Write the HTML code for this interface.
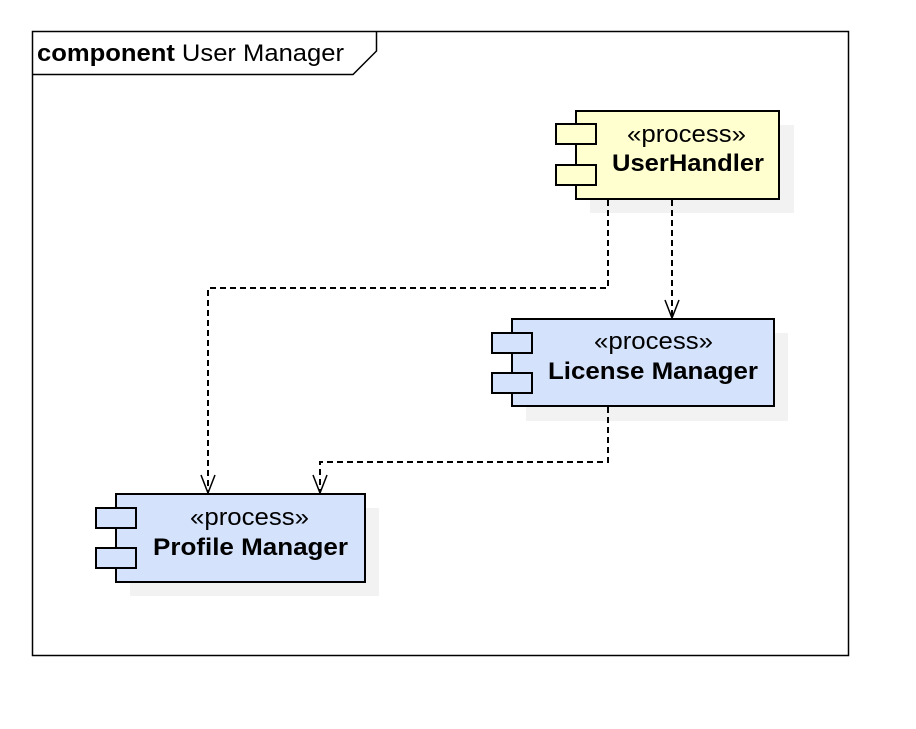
<!DOCTYPE html>
<html><head><style>body{margin:0;background:#fff}</style></head><body>
<svg width="916" height="724" xmlns="http://www.w3.org/2000/svg" font-family="Liberation Sans, sans-serif">
<rect x="0" y="0" width="916" height="724" fill="#fff"/>
<rect x="32.5" y="31.5" width="816" height="624" fill="none" stroke="#000" stroke-width="1.5"/>
<polyline points="32.5,74.5 353,74.5 376.5,51 376.5,31.5" fill="none" stroke="#000" stroke-width="1.5"/>
<text x="37" y="61" font-size="24" textLength="307" lengthAdjust="spacingAndGlyphs"><tspan font-weight="bold">component</tspan> User Manager</text>
<g fill="#f2f2f2">
<rect x="590" y="125" width="204" height="88"/>
<rect x="526" y="333" width="262" height="88"/>
<rect x="130" y="508" width="249" height="88"/>
</g>
<g stroke="#000" stroke-width="2">
<rect x="576" y="111" width="203" height="88" fill="#ffffd0"/>
<rect x="556" y="124" width="40" height="20" fill="#ffffd0"/>
<rect x="556" y="165" width="40" height="20" fill="#ffffd0"/>
<rect x="512" y="319" width="262" height="87" fill="#d4e2fc"/>
<rect x="492" y="333" width="40" height="20" fill="#d4e2fc"/>
<rect x="492" y="373" width="40" height="20" fill="#d4e2fc"/>
<rect x="116" y="494" width="249" height="88" fill="#d4e2fc"/>
<rect x="96" y="508" width="40" height="20" fill="#d4e2fc"/>
<rect x="96" y="548" width="40" height="20" fill="#d4e2fc"/>
</g>
<g font-size="24" lengthAdjust="spacingAndGlyphs">
<text x="627" y="142" textLength="119" lengthAdjust="spacingAndGlyphs">«process»</text>
<text x="612" y="171" font-weight="bold" textLength="152" lengthAdjust="spacingAndGlyphs">UserHandler</text>
<text x="594" y="349" textLength="119" lengthAdjust="spacingAndGlyphs">«process»</text>
<text x="548" y="379" font-weight="bold" textLength="210" lengthAdjust="spacingAndGlyphs">License Manager</text>
<text x="190" y="525" textLength="119" lengthAdjust="spacingAndGlyphs">«process»</text>
<text x="153" y="555" font-weight="bold" textLength="195" lengthAdjust="spacingAndGlyphs">Profile Manager</text>
</g>
<g fill="none" stroke="#000" stroke-width="2" stroke-dasharray="6,4">
<polyline points="608,200 608,288 208,288 208,493"/>
<polyline points="672,200 672,318"/>
<polyline points="608,407 608,462 320,462 320,493"/>
</g>
<g fill="none" stroke="#000" stroke-width="1.5">
<polyline points="665,300 672,318 679,300"/>
<polyline points="201,475 208,493 215,475"/>
<polyline points="313,475 320,493 327,475"/>
</g>
</svg>
</body></html>
